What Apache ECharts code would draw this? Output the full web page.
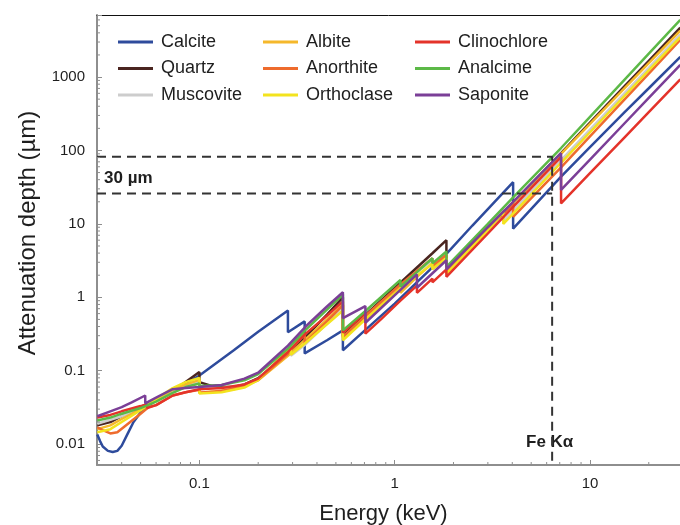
<!DOCTYPE html>
<html>
<head>
<meta charset="utf-8">
<title>Attenuation depth</title>
<script src="https://cdn.jsdelivr.net/npm/echarts@6/dist/echarts.min.js"></script>
<style>
  html, body { margin: 0; padding: 0; background: #fff; }
  #chart { width: 680px; height: 525px; }
</style>
</head>
<body>
<div id="chart"></div>
<script>
// legend order
const minerals = ['Calcite', 'Quartz', 'Muscovite', 'Albite', 'Anorthite', 'Orthoclase', 'Clinochlore', 'Analcime', 'Saponite']
const colors = ['#2e4b9c', '#4a2520', '#cdcdcd', '#f5b82b', '#ee6b2d', '#f3e31e', '#e4332a', '#5cb947', '#7b3f97']

// [energy keV, attenuation depth um] - same energy twice = absorption edge
const calcite = [[0.03, 0.0135], [0.031, 0.011], [0.032, 0.0093], [0.034, 0.0081], [0.036, 0.0078], [0.038, 0.0081], [0.04, 0.0095], [0.043, 0.014], [0.046, 0.02], [0.05, 0.027], [0.055, 0.034], [0.06, 0.039], [0.07, 0.05], [0.08, 0.061], [0.1, 0.086], [0.15, 0.19], [0.2, 0.34], [0.284, 0.66], [0.284, 0.335], [0.346, 0.47], [0.346, 0.172], [0.45, 0.26], [0.543, 0.355], [0.543, 0.19], [0.708, 0.36], [1, 0.82], [1.84, 3.9], [2.5, 9.5], [4.04, 37], [4.04, 8.6], [7.11, 44], [10, 111], [15, 330], [20, 704], [29, 1880]]
const quartz = [[0.03, 0.018], [0.035, 0.02], [0.04, 0.024], [0.05, 0.032], [0.06, 0.041], [0.073, 0.053], [0.085, 0.07], [0.1, 0.096], [0.1, 0.07], [0.12, 0.06], [0.15, 0.06], [0.17, 0.065], [0.2, 0.079], [0.284, 0.17], [0.35, 0.29], [0.45, 0.58], [0.543, 1.0], [0.543, 0.3], [0.708, 0.575], [1.07, 1.58], [1.56, 3.98], [1.84, 6.0], [1.84, 2.2], [3, 8.5], [4.04, 19.3], [7.11, 92], [10, 239], [15, 744], [20, 1666], [29, 4700]]
const muscovite = [[0.03, 0.019], [0.04, 0.024], [0.05, 0.031], [0.06, 0.04], [0.073, 0.052], [0.1, 0.072], [0.1, 0.06], [0.13, 0.058], [0.17, 0.064], [0.2, 0.077], [0.294, 0.19], [0.294, 0.16], [0.35, 0.23], [0.45, 0.44], [0.543, 0.75], [0.543, 0.27], [0.708, 0.53], [1.07, 1.45], [1.56, 3.2], [1.56, 2.7], [1.84, 3.9], [1.84, 2.5], [3, 9.6], [3.6, 15.8], [3.6, 11], [4.04, 15.2], [7.11, 74], [10, 192], [15, 598], [20, 1338], [29, 3800]]
const albite = [[0.03, 0.016], [0.035, 0.018], [0.04, 0.022], [0.05, 0.03], [0.06, 0.04], [0.073, 0.055], [0.085, 0.065], [0.1, 0.075], [0.1, 0.05], [0.12, 0.052], [0.15, 0.056], [0.17, 0.062], [0.2, 0.074], [0.284, 0.16], [0.35, 0.27], [0.45, 0.5], [0.543, 0.8], [0.543, 0.28], [0.708, 0.55], [1.07, 1.4], [1.07, 1.15], [1.3, 1.9], [1.56, 2.9], [1.56, 2.5], [1.84, 3.8], [1.84, 2.3], [3, 8.65], [4.04, 19.4], [7.11, 90], [10, 230], [15, 701], [20, 1547], [29, 4300]]
const anorthite = [[0.03, 0.017], [0.032, 0.0155], [0.035, 0.014], [0.038, 0.0145], [0.042, 0.018], [0.05, 0.026], [0.055, 0.032], [0.06, 0.034], [0.073, 0.046], [0.085, 0.051], [0.1, 0.055], [0.1, 0.05], [0.13, 0.053], [0.17, 0.062], [0.2, 0.075], [0.284, 0.17], [0.346, 0.32], [0.346, 0.24], [0.45, 0.47], [0.543, 0.78], [0.543, 0.29], [0.708, 0.56], [1.07, 1.5], [1.56, 3.4], [1.56, 2.7], [1.84, 3.8], [1.84, 2.2], [3, 8.3], [4.04, 19], [4.04, 12.5], [7.11, 59], [10, 156], [15, 491], [20, 1113], [29, 3200]]
const orthoclase = [[0.03, 0.0145], [0.035, 0.016], [0.04, 0.02], [0.05, 0.029], [0.06, 0.041], [0.073, 0.058], [0.085, 0.07], [0.1, 0.08], [0.1, 0.049], [0.13, 0.051], [0.17, 0.059], [0.2, 0.075], [0.294, 0.21], [0.294, 0.165], [0.35, 0.24], [0.45, 0.43], [0.543, 0.66], [0.543, 0.26], [0.708, 0.5], [1.07, 1.3], [1.56, 2.9], [1.56, 2.4], [1.84, 3.4], [1.84, 2.1], [3, 8.1], [3.6, 14.5], [3.6, 10], [4.04, 13.8], [7.11, 68], [10, 177], [15, 552], [20, 1238], [29, 3500]]
const clinochlore = [[0.03, 0.023], [0.035, 0.025], [0.04, 0.028], [0.05, 0.033], [0.054, 0.035], [0.054, 0.031], [0.06, 0.034], [0.073, 0.046], [0.085, 0.051], [0.1, 0.056], [0.13, 0.058], [0.17, 0.065], [0.2, 0.078], [0.284, 0.18], [0.35, 0.32], [0.45, 0.56], [0.543, 0.88], [0.543, 0.33], [0.708, 0.62], [0.708, 0.32], [0.85, 0.5], [1.07, 0.9], [1.3, 1.45], [1.3, 1.15], [1.56, 1.8], [1.56, 1.6], [1.84, 2.4], [1.84, 1.9], [3, 7.4], [4.04, 17], [7.11, 82], [7.11, 19], [10, 49], [15, 150], [20, 333], [29, 930]]
const analcime = [[0.03, 0.021], [0.035, 0.023], [0.04, 0.026], [0.05, 0.031], [0.06, 0.038], [0.073, 0.05], [0.085, 0.06], [0.1, 0.067], [0.1, 0.062], [0.13, 0.064], [0.17, 0.074], [0.2, 0.09], [0.284, 0.2], [0.35, 0.36], [0.45, 0.68], [0.543, 1.1], [0.543, 0.355], [0.708, 0.65], [1.07, 1.72], [1.07, 1.4], [1.3, 2.2], [1.56, 3.4], [1.56, 2.9], [1.84, 4.2], [1.84, 2.6], [3, 10], [4.04, 23], [7.11, 108], [10, 287], [15, 913], [20, 2081], [29, 6000]]
const saponite = [[0.03, 0.024], [0.035, 0.028], [0.04, 0.032], [0.045, 0.037], [0.0528, 0.046], [0.0528, 0.036], [0.06, 0.043], [0.073, 0.056], [0.085, 0.058], [0.1, 0.06], [0.13, 0.064], [0.17, 0.078], [0.2, 0.094], [0.284, 0.22], [0.35, 0.4], [0.45, 0.75], [0.543, 1.17], [0.543, 0.52], [0.708, 0.76], [0.708, 0.45], [1.07, 1.26], [1.3, 2.05], [1.3, 1.35], [1.84, 3.2], [1.84, 2.4], [3, 9], [4.04, 20], [7.11, 92], [7.11, 29], [10, 75], [15, 233], [20, 519], [29, 1460]]
const curves = [calcite, quartz, muscovite, albite, anorthite, orthoclase, clinochlore, analcime, saponite]

// axes
const xRange = [0.0299, 28.9]
const yRange = [0.0052, 7000]
const xMinorTicks = [0.04, 0.05, 0.06, 0.07, 0.08, 0.09, 0.2, 0.3, 0.4, 0.5, 0.6, 0.7, 0.8, 0.9, 2, 3, 4, 5, 6, 7, 8, 9, 20]
const yMinorTicks = [0.006, 0.007, 0.008, 0.009, 0.02, 0.03, 0.04, 0.05, 0.06, 0.07, 0.08, 0.09, 0.2, 0.3, 0.4, 0.5, 0.6, 0.7, 0.8, 0.9,
  2, 3, 4, 5, 6, 7, 8, 9, 20, 30, 40, 50, 60, 70, 80, 90, 200, 300, 400, 500, 600, 700, 800, 900, 2000, 3000, 4000, 5000, 6000]

// Fe K-alpha guide lines
const feKa = 6.4
const depthHigh = 82
const depthLow = 26

const font = "'Liberation Sans', Arial, sans-serif"
const textColor = '#1e1e1e'
const axisGray = '#8e8e8e'

const powLabel = v => {
  const e = Math.log10(v)
  if (Math.abs(e - Math.round(e)) > 1e-6) return ''
  return String(+Math.pow(10, Math.round(e)).toPrecision(1))
}

const chart = echarts.init(document.getElementById('chart'), null, { renderer: 'canvas' })

const lineSeries = minerals.map((name, i) => ({
  name,
  type: 'line',
  data: curves[i],
  symbol: 'none',
  showSymbol: false,
  lineStyle: { width: 2.5, color: colors[i] },
  itemStyle: { color: colors[i] },
  emphasis: { disabled: true },
  z: 3
}))

const guideStyle = { color: '#333', width: 2, type: [9, 6] }

const minorTick = (dx, dy) => (params, api) => {
  const p = api.coord([api.value(0), api.value(1)])
  return {
    type: 'line',
    shape: { x1: p[0], y1: p[1], x2: p[0] + dx, y2: p[1] + dy },
    style: { stroke: axisGray, lineWidth: 1 }
  }
}

const legendCols = [minerals.slice(0, 3), minerals.slice(3, 6), minerals.slice(6, 9)]
const legendLefts = [118, 263, 415]

chart.setOption({
  animation: false,
  backgroundColor: '#fff',
  grid: { left: 97, right: 0, top: 15, bottom: 60, containLabel: false, outerBoundsMode: 'none' },
  legend: legendCols.map((names, i) => ({
    data: names,
    orient: 'vertical',
    left: legendLefts[i],
    top: 33,
    padding: 0,
    icon: 'rect',
    itemWidth: 35,
    itemHeight: 3,
    itemGap: 8.5,
    selectedMode: false,
    textStyle: { fontSize: 18, lineHeight: 18, color: textColor, fontFamily: font, padding: [0, 0, 0, 3] }
  })),
  xAxis: [{
    type: 'log',
    min: xRange[0],
    max: xRange[1],
    name: 'Energy (keV)',
    nameLocation: 'middle',
    nameGap: 38,
    nameTextStyle: { fontSize: 22, color: textColor, fontFamily: font, padding: [0, 10, 0, 0] },
    axisLine: { lineStyle: { color: axisGray, width: 2 } },
    axisTick: { inside: true, length: 5, lineStyle: { color: axisGray } },
    axisLabel: { formatter: powLabel, fontSize: 15, color: textColor, fontFamily: font, margin: 11 },
    splitLine: { show: false }
  }, {
    type: 'log',
    position: 'top',
    min: xRange[0],
    max: xRange[1],
    axisLine: { lineStyle: { color: '#111', width: 1 } },
    axisTick: { show: false },
    axisLabel: { show: false },
    splitLine: { show: false }
  }],
  yAxis: {
    type: 'log',
    min: yRange[0],
    max: yRange[1],
    name: 'Attenuation depth (µm)',
    nameLocation: 'middle',
    nameGap: 55,
    nameTextStyle: { fontSize: 24, color: textColor, fontFamily: font, padding: [0, 0, 0, 14] },
    axisLine: { lineStyle: { color: axisGray, width: 2 } },
    axisTick: { inside: true, length: 5, lineStyle: { color: axisGray } },
    axisLabel: { formatter: powLabel, fontSize: 15, color: textColor, fontFamily: font, margin: 12 },
    splitLine: { show: false }
  },
  series: [
    ...lineSeries,
    {
      name: 'feGuide', type: 'line', symbol: 'none', silent: true, z: 4,
      data: [[xRange[0], depthHigh], [feKa, depthHigh], [feKa, yRange[0]]],
      lineStyle: guideStyle
    },
    {
      name: 'lowGuide', type: 'line', symbol: 'none', silent: true, z: 4,
      data: [[xRange[0], depthLow], [feKa, depthLow]],
      lineStyle: guideStyle
    },
    {
      name: 'xMinor', type: 'custom', silent: true, z: 5,
      data: xMinorTicks.map(v => [v, yRange[0]]),
      renderItem: minorTick(0, -3)
    },
    {
      name: 'yMinor', type: 'custom', silent: true, z: 5,
      data: yMinorTicks.map(v => [xRange[0], v]),
      renderItem: minorTick(3, 0)
    }
  ],
  graphic: [
    { type: 'text', left: 104, top: 170, style: { text: '30 µm', fontSize: 17, fontWeight: 'bold', fill: textColor, fontFamily: font } },
    { type: 'text', left: 526, top: 434, style: { text: 'Fe Kα', fontSize: 17, fontWeight: 'bold', fill: textColor, fontFamily: font } }
  ]
})
</script>
</body>
</html>
